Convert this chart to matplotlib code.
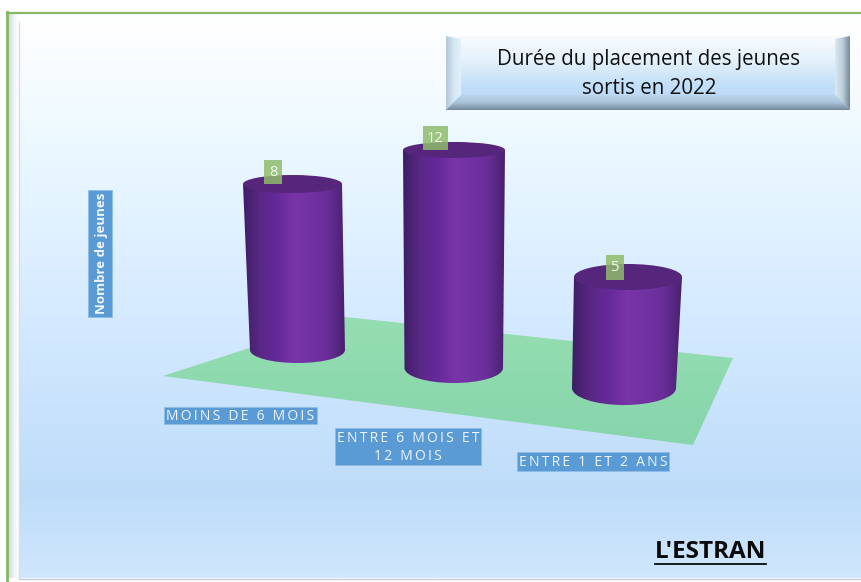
#!/usr/bin/env python
"""Durée du placement des jeunes sortis en 2022 - pseudo 3D cylinders, drawn in pixel space."""
import matplotlib

matplotlib.use("Agg")
import matplotlib.pyplot as plt
import numpy as np
from matplotlib.colors import LinearSegmentedColormap
from matplotlib.patches import Ellipse, PathPatch, Polygon, Rectangle
from matplotlib.path import Path

W, H = 862, 582
FONT = ["Open Sans", "DejaVu Sans"]

TITLE = "Durée du placement des jeunes\nsortis en 2022"
YLABEL = "Nombre de jeunes"
CATEGORIES = ["MOINS DE 6 MOIS", "ENTRE 6 MOIS ET\n12 MOIS", "ENTRE 1 ET 2 ANS"]
VALUES = [8, 12, 5]

# perspective of each cylinder
BASE_Y = [350, 368, 388]
BASE_X = [(250, 345), (404.5, 503), (572, 676)]
TOP_X = [(243, 342), (403, 505), (574, 682)]
BASE_RY = [13, 15, 17]
TOP_RY = [9, 8, 13]
PX_PER_UNIT = [20.75, 18.17, 22.2]
VAL_BOX = [(264, 282, 160, 184), (423, 448, 126, 150), (606, 624, 255, 280)]
CAT_BOX = [(164, 317, 407, 424), (335, 481, 428, 465), (517, 669, 452, 471)]

CYL = ["#3d1e66", "#5a2884", "#65299a", "#7834a8", "#7232a4", "#692e98", "#48216f"]
BG = [(0.0, "#ffffff"), (0.2, "#edf9ff"), (0.55, "#d3e9ff"), (0.85, "#bedcf9"), (1.0, "#d0e7fd")]


def gradient(ax, box, colors, horizontal=False, clip=None, zorder=1):
    cmap = LinearSegmentedColormap.from_list("g", colors)
    g = np.linspace(0, 1, 256)
    g = g[None, :] if horizontal else g[:, None]
    x0, x1, y0, y1 = box
    im = ax.imshow(g, cmap=cmap, extent=(x0, x1, y1, y0), origin="upper", aspect="auto",
                   zorder=zorder, interpolation="bilinear")
    if clip is not None:
        clip.set_transform(ax.transData)
        im.set_clip_path(clip)
    return im


def cylinder(ax, i, value):
    lb, rb = BASE_X[i]
    lt, rt = TOP_X[i]
    yb = BASE_Y[i]
    yt = yb - value * PX_PER_UNIT[i]
    cb = (lb + rb) / 2
    ct = (lt + rt) / 2
    k = 0.5523
    ax_b, ry_b = (rb - lb) / 2, BASE_RY[i]
    verts = [(lt, yt), (lb, yb),
             (lb, yb + k * ry_b), (cb - k * ax_b, yb + ry_b), (cb, yb + ry_b),
             (cb + k * ax_b, yb + ry_b), (rb, yb + k * ry_b), (rb, yb),
             (rt, yt), (lt, yt)]
    codes = [Path.MOVETO, Path.LINETO, Path.CURVE4, Path.CURVE4, Path.CURVE4,
             Path.CURVE4, Path.CURVE4, Path.CURVE4, Path.LINETO, Path.CLOSEPOLY]
    clip = PathPatch(Path(verts, codes), transform=ax.transData)
    gradient(ax, (min(lb, lt), max(rb, rt), yt, yb + ry_b), CYL, horizontal=True, clip=clip, zorder=3)
    ax.add_patch(Ellipse((ct, yt), rt - lt, 2 * TOP_RY[i], fc="#56267c", ec="none", zorder=4))
    x0, x1, y0, y1 = VAL_BOX[i]
    ax.add_patch(Rectangle((x0, y0), x1 - x0, y1 - y0, fc="#8fbc6c", ec="none", alpha=0.85, zorder=5))
    ax.text((x0 + x1) / 2, (y0 + y1) / 2, str(value), color="#f4f8ee", fontsize=10.5,
            ha="center", va="center", family=FONT, zorder=6)


def spaced(s):
    return "\n".join("\u2009".join(line) for line in s.split("\n"))


def main():
    fig = plt.figure(figsize=(W / 100, H / 100), dpi=100, facecolor="white")
    ax = fig.add_axes([0, 0, 1, 1])
    ax.set_xlim(0, W)
    ax.set_ylim(H, 0)
    ax.axis("off")

    # panel background and frame
    gradient(ax, (19, W, 22, 578), BG, zorder=1)
    ax.add_patch(Rectangle((19, 12), W - 19, 10, fc="#fdfefe", ec="none", zorder=1))
    gradient(ax, (8, 19, 14, 578), ["#cdd6df", "#eef2f6", "#ffffff"], horizontal=True, zorder=1)
    ax.plot([19, 19], [22, 578], color="#d8dde2", lw=1, zorder=2)
    ax.plot([19, W], [578.5, 578.5], color="#c4ccd4", lw=1, zorder=2)
    ax.plot([7.5, 7.5], [12, H], color="#86b765", lw=2, zorder=2)
    ax.plot([7, W], [12.5, 12.5], color="#86b765", lw=1.6, zorder=2)

    # floor
    floor = Polygon([(163, 376), (345, 317), (733, 358), (693, 445)], closed=True)
    gradient(ax, (163, 733, 317, 445), ["#95deb1", "#87d5ac"], clip=floor, zorder=2)

    for i, v in enumerate(VALUES):
        cylinder(ax, i, v)

    # category labels
    for box, cat in zip(CAT_BOX, CATEGORIES):
        x0, x1, y0, y1 = box
        ax.add_patch(Rectangle((x0, y0), x1 - x0, y1 - y0, fc="#5b9bd5", ec="#8fbde6", lw=0.6, zorder=5))
        ax.text((x0 + x1) / 2, (y0 + y1) / 2 + 1, spaced(cat), color="#eef6fd", fontsize=10,
                ha="center", va="center", family=FONT, linespacing=1.35, zorder=6)

    # axis title
    ax.add_patch(Rectangle((88, 190), 24, 127, fc="#5b9bd5", ec="#8fbde6", lw=0.6, zorder=5))
    ax.text(101.5, 253.5, YLABEL, color="#f2f8fd", fontsize=9.5, fontweight="bold", rotation=90,
            ha="center", va="center", family=FONT, zorder=6)

    # bevelled title box
    x0, x1, y0, y1 = 446, 850, 36, 110
    b = 15
    gradient(ax, (x0, x1, y0, y1), ["#f8fbfd", "#e4f1fb", "#c2dff9", "#b6d6f3"], zorder=4)
    left = Polygon([(x0, y0), (x0 + b, y0 + 3), (x0 + b, y1 - b), (x0, y1)], closed=True)
    gradient(ax, (x0, x0 + b, y0, y1), ["#b4c6d6", "#d4e6f5", "#e2f0fb"], horizontal=True, clip=left, zorder=5)
    right = Polygon([(x1, y0), (x1 - b, y0 + 3), (x1 - b, y1 - b), (x1, y1)], closed=True)
    gradient(ax, (x1 - b, x1, y0, y1), ["#dce9f4", "#bccdda", "#76889a"], horizontal=True, clip=right, zorder=5)
    bottom = Polygon([(x0, y1), (x0 + b, y1 - b), (x1 - b, y1 - b), (x1, y1)], closed=True)
    gradient(ax, (x0, x1, y1 - b, y1), ["#bcd6ee", "#aac2d8", "#74889a"], clip=bottom, zorder=5)
    ax.text((x0 + x1) / 2 + 1, (y0 + y1) / 2 + 0.5, TITLE, color="#111111", fontsize=14.8,
            ha="center", va="center", family=FONT, linespacing=1.5, zorder=6)

    # signature
    ax.text(710.5, 552, "L'ESTRAN", color="#0a0a0a", fontsize=17.5, fontweight="bold",
            ha="center", va="center", family=FONT, zorder=6)
    ax.plot([655, 766], [563.5, 563.5], color="#0a0a0a", lw=1.3, zorder=6)

    fig.savefig("out.png", dpi=100, facecolor="white")
    plt.close(fig)


if __name__ == "__main__":
    main()
